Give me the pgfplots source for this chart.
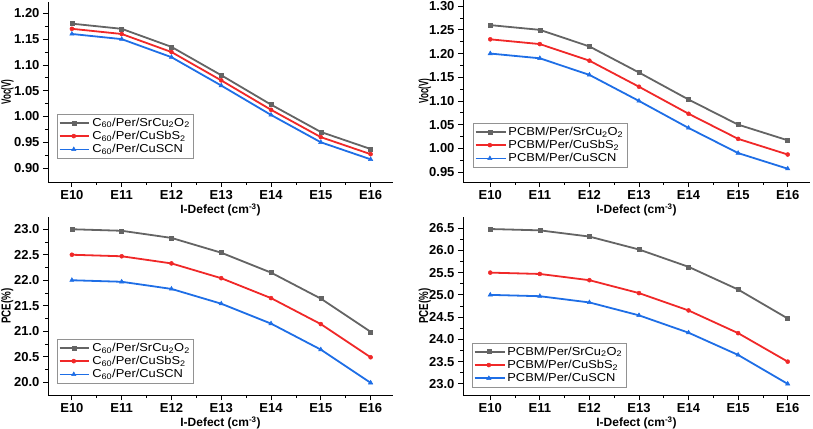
\documentclass[border=0pt]{standalone}
\usepackage{pgfplots}
\pgfplotsset{compat=1.18}
\usepackage{fontspec}
\setmainfont{Liberation Sans}
\newfontfamily\legfont[FakeStretch=1.12]{Liberation Sans}
\newfontfamily\ylabfont[FakeStretch=0.6]{Liberation Sans Bold}
\newfontfamily\ylabfontb[FakeStretch=0.75]{Liberation Sans Bold}
\definecolor{cgray}{RGB}{100,100,100}
\definecolor{cred}{RGB}{240,40,40}
\definecolor{cblue}{RGB}{30,110,230}
\pgfplotsset{
  panel/.style={
    scale only axis,
    axis x line=bottom, axis y line=left,
    axis line style={-, black, line width=0.8pt},
    tick align=outside,
    major tick length=5pt, minor tick length=3pt,
    every tick/.style={black, line width=0.8pt},
    xtick={0,...,6},
    xticklabels={E10,E11,E12,E13,E14,E15,E16},
    minor x tick num=1, minor y tick num=1,
    xmin=-0.48, xmax=6.45,
    enlargelimits=false,
    /pgf/number format/assume math mode=true,
    ticklabel style={font=\fontsize{13}{15}\selectfont\bfseries},
    xlabel={I-Defect (cm\textsuperscript{-3})},
    xlabel style={font=\fontsize{12}{14}\selectfont\bfseries, yshift=3pt},
    ylabel style={anchor=center},
    legend cell align=left,
    legend style={draw=cgray!70, font=\legfont\fontsize{11.5}{13}\selectfont, inner sep=1.5pt,
      row sep=-0.5pt, anchor=south west},
    legend image code/.code={\draw[mark repeat=2,mark phase=2] plot coordinates {(0cm,0cm)(0.5cm,0cm)(1.05cm,0cm)};},
    every axis plot/.append style={line width=1.8pt},
  },
  sg/.style={cgray, mark=square*, mark size=2pt, mark options={solid, line width=0.5pt}},
  sr/.style={cred, mark=*, mark size=2pt, mark options={solid, line width=0.5pt}},
  sb/.style={cblue, mark=triangle*, mark size=2.5pt, mark options={solid, line width=0.5pt}},
  voclab/.style={ylabel={Voc(V)}, ylabel style={font=\ylabfont\fontsize{13.5}{15}\selectfont}},
  pcelab/.style={ylabel={PCE(\%)}, ylabel style={font=\ylabfontb\fontsize{13}{15}\selectfont}},
}
\begin{document}
\begin{tikzpicture}
\useasboundingbox (0pt,0pt) rectangle (813pt,428pt);
% top-left
\begin{axis}[panel, at={(48pt,246pt)}, anchor=south west, width=345pt, height=180pt,
  ymin=0.873, ymax=1.222, ytick={0.90,0.95,...,1.21},
  yticklabel style={/pgf/number format/.cd, fixed, fixed zerofill, precision=2},
  voclab,
  ylabel style={at={(axis description cs:-0.118,0.5)}},
  legend style={at={(0.026,0.133)}}]
\addplot[sg] coordinates {(0,1.180)(1,1.170)(2,1.135)(3,1.080)(4,1.023)(5,0.970)(6,0.937)};
\addplot[sr] coordinates {(0,1.170)(1,1.160)(2,1.125)(3,1.070)(4,1.013)(5,0.960)(6,0.927)};
\addplot[sb] coordinates {(0,1.160)(1,1.150)(2,1.115)(3,1.060)(4,1.003)(5,0.950)(6,0.917)};
\legend{C\textsubscript{60}/Per/SrCu\textsubscript{2}O\textsubscript{2},C\textsubscript{60}/Per/CuSbS\textsubscript{2},C\textsubscript{60}/Per/CuSCN}
\end{axis}
% top-right
\begin{axis}[panel, at={(463pt,246pt)}, anchor=south west, width=347pt, height=182pt,
  xmin=-0.55,
  ymin=0.929, ymax=1.313, ytick={0.95,1.00,...,1.31},
  yticklabel style={/pgf/number format/.cd, fixed, fixed zerofill, precision=2},
  voclab,
  ylabel style={at={(axis description cs:-0.110,0.5)}},
  legend style={at={(0.029,0.082)}}]
\addplot[sg] coordinates {(0,1.260)(1,1.250)(2,1.215)(3,1.160)(4,1.103)(5,1.050)(6,1.017)};
\addplot[sr] coordinates {(0,1.230)(1,1.220)(2,1.185)(3,1.130)(4,1.073)(5,1.020)(6,0.987)};
\addplot[sb] coordinates {(0,1.200)(1,1.190)(2,1.155)(3,1.100)(4,1.043)(5,0.990)(6,0.957)};
\legend{PCBM/Per/SrCu\textsubscript{2}O\textsubscript{2},PCBM/Per/CuSbS\textsubscript{2},PCBM/Per/CuSCN}
\end{axis}
% bottom-left
\begin{axis}[panel, at={(48pt,33pt)}, anchor=south west, width=345pt, height=178pt,
  ymin=19.75, ymax=23.24, ytick={20.0,20.5,...,23.1},
  yticklabel style={/pgf/number format/.cd, fixed, fixed zerofill, precision=1},
  pcelab,
  ylabel style={at={(axis description cs:-0.118,0.5)}},
  legend style={at={(0.026,0.067)}}]
\addplot[sg] coordinates {(0,23.00)(1,22.97)(2,22.83)(3,22.54)(4,22.15)(5,21.64)(6,20.99)};
\addplot[sr] coordinates {(0,22.50)(1,22.47)(2,22.33)(3,22.04)(4,21.65)(5,21.14)(6,20.49)};
\addplot[sb] coordinates {(0,22.00)(1,21.97)(2,21.83)(3,21.54)(4,21.15)(5,20.64)(6,19.99)};
\legend{C\textsubscript{60}/Per/SrCu\textsubscript{2}O\textsubscript{2},C\textsubscript{60}/Per/CuSbS\textsubscript{2},C\textsubscript{60}/Per/CuSCN}
\end{axis}
% bottom-right
\begin{axis}[panel, at={(463pt,33pt)}, anchor=south west, width=347pt, height=178pt,
  xmin=-0.55,
  ymin=22.75, ymax=26.75, ytick={23.0,23.5,...,26.6},
  yticklabel style={/pgf/number format/.cd, fixed, fixed zerofill, precision=1},
  pcelab,
  ylabel style={at={(axis description cs:-0.110,0.5)}},
  legend style={at={(0.026,0.045)}}]
\addplot[sg] coordinates {(0,26.48)(1,26.45)(2,26.31)(3,26.02)(4,25.63)(5,25.12)(6,24.47)};
\addplot[sr] coordinates {(0,25.50)(1,25.47)(2,25.33)(3,25.04)(4,24.65)(5,24.14)(6,23.50)};
\addplot[sb] coordinates {(0,25.00)(1,24.97)(2,24.83)(3,24.54)(4,24.15)(5,23.65)(6,23.00)};
\legend{PCBM/Per/SrCu\textsubscript{2}O\textsubscript{2},PCBM/Per/CuSbS\textsubscript{2},PCBM/Per/CuSCN}
\end{axis}
\end{tikzpicture}
\end{document}
